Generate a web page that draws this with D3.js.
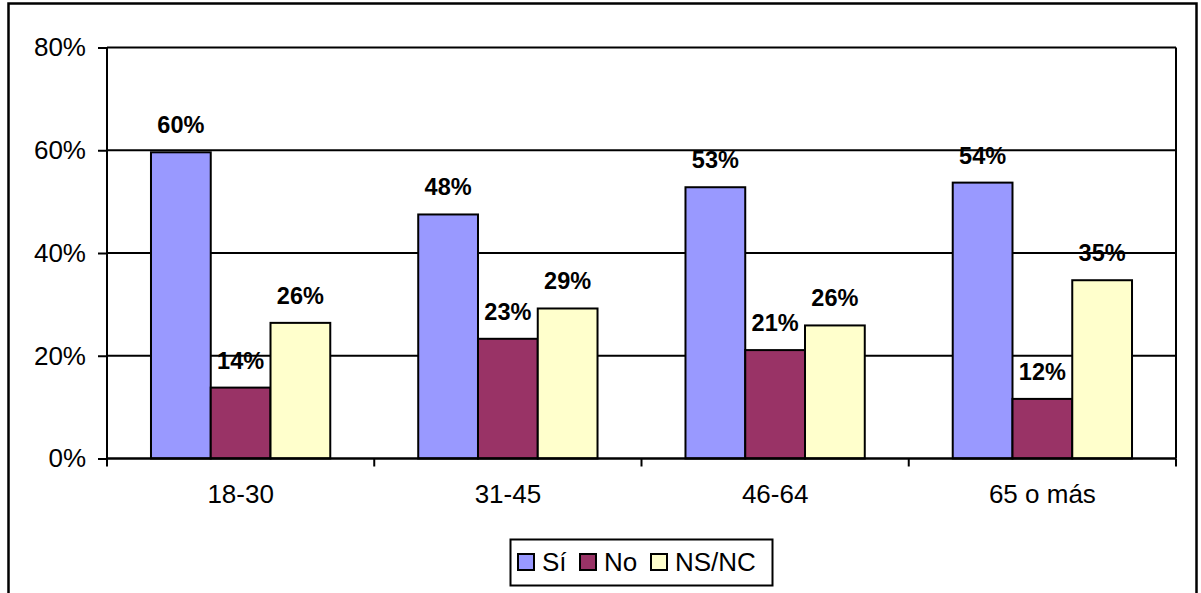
<!DOCTYPE html>
<html>
<head>
<meta charset="utf-8">
<script src="https://cdn.jsdelivr.net/npm/d3@7"></script>
<style>
html,body{margin:0;padding:0;background:#fff;}
svg{display:block;font-family:Arial,"Liberation Sans",sans-serif;}
</style>
</head>
<body>
<svg id="chart" width="1201" height="593"></svg>
<script>
const categories = ["18-30", "31-45", "46-64", "65 o más"];
const seriesNames = ["Sí", "No", "NS/NC"];
const siValues = [59.6, 47.5, 52.8, 53.7];
const noValues = [13.8, 23.3, 21.1, 11.6];
const nsncValues = [26.4, 29.2, 25.9, 34.7];
const yTicks = [0, 20, 40, 60, 80];
const colors = ["#9999FF", "#993366", "#FFFFCC"];

const seriesValues = [siValues, noValues, nsncValues];

const svg = d3.select("#chart");
const pLeft = 107, pRight = 1176, pTop = 47.5, pBottom = 458.5;

// outer frame
svg.append("rect")
  .attr("x", 8.5).attr("y", 3.5).attr("width", 1188).attr("height", 640)
  .attr("fill", "#fff").attr("stroke", "#000").attr("stroke-width", 2.5);

const x0 = d3.scaleBand().domain(categories).range([pLeft, pRight]).padding(0);
const x1 = d3.scaleBand().domain(seriesNames).range([0, x0.bandwidth()])
  .paddingInner(0).paddingOuter(0.736);
const y = d3.scaleLinear().domain([0, 80]).range([pBottom, pTop]);

// gridlines
svg.append("g").selectAll("line").data(yTicks.filter(d => d > 0)).join("line")
  .attr("x1", pLeft).attr("x2", pRight)
  .attr("y1", d => y(d)).attr("y2", d => y(d))
  .attr("stroke", "#000").attr("stroke-width", 2);

// right border of plot
svg.append("line").attr("x1", pRight).attr("x2", pRight).attr("y1", pTop).attr("y2", pBottom)
  .attr("stroke", "#000").attr("stroke-width", 2);

// bars
const groups = svg.append("g").selectAll("g").data(categories).join("g")
  .attr("transform", d => `translate(${x0(d)},0)`);

groups.selectAll("rect")
  .data((c, i) => seriesNames.map((s, j) => ({s, j, v: seriesValues[j][i]})))
  .join("rect")
  .attr("x", d => x1(d.s))
  .attr("y", d => y(d.v))
  .attr("width", x1.bandwidth())
  .attr("height", d => y(0) - y(d.v))
  .attr("fill", d => colors[d.j])
  .attr("stroke", "#000").attr("stroke-width", 2);

groups.selectAll("text")
  .data((c, i) => seriesNames.map((s, j) => ({s, j, v: seriesValues[j][i]})))
  .join("text")
  .attr("x", d => x1(d.s) + x1.bandwidth() / 2)
  .attr("y", d => y(d.v) - 19)
  .attr("text-anchor", "middle")
  .attr("font-weight", "bold")
  .attr("font-size", 23.5)
  .attr("fill", "#000")
  .text(d => Math.round(d.v) + "%");

// y axis
const yAxis = d3.axisLeft(y).tickValues(yTicks).tickSize(9).tickPadding(12)
  .tickFormat(d => d + "%");
const ya = svg.append("g").attr("transform", `translate(${pLeft},0)`).call(yAxis);
ya.select(".domain").attr("stroke", "#000").attr("stroke-width", 2)
  .attr("d", `M0,${pTop}V${pBottom + 7}`);
ya.selectAll(".tick line").attr("stroke", "#000").attr("stroke-width", 2);
ya.selectAll(".tick text").attr("font-size", 26).attr("fill", "#000")
  .attr("font-family", "Arial, 'Liberation Sans', sans-serif");

// x axis
const xAxis = d3.axisBottom(x0).tickSize(0).tickPadding(26);
const xa = svg.append("g").attr("transform", `translate(0,${pBottom})`).call(xAxis);
xa.select(".domain").attr("stroke", "#000").attr("stroke-width", 2.5).attr("d", `M${pLeft},0H${pRight}`);
xa.selectAll(".tick text").attr("font-size", 26).attr("fill", "#000")
  .attr("font-family", "Arial, 'Liberation Sans', sans-serif");
// boundary ticks
const bounds = categories.map(c => x0(c)).concat([pRight]);
svg.append("g").selectAll("line").data(bounds).join("line")
  .attr("x1", d => d).attr("x2", d => d)
  .attr("y1", pBottom).attr("y2", pBottom + 8)
  .attr("stroke", "#000").attr("stroke-width", 2);

// legend
const lg = svg.append("g");
lg.append("rect").attr("x", 510.5).attr("y", 539.5).attr("width", 262).attr("height", 46)
  .attr("fill", "#fff").attr("stroke", "#000").attr("stroke-width", 2);
const legendX = [518, 580, 651];
seriesNames.forEach((s, j) => {
  lg.append("rect").attr("x", legendX[j]).attr("y", 554).attr("width", 16).attr("height", 16)
    .attr("fill", colors[j]).attr("stroke", "#000").attr("stroke-width", 2);
  lg.append("text").attr("x", legendX[j] + 24).attr("y", 571)
    .attr("font-size", 26).attr("fill", "#000").text(s);
});
</script>
</body>
</html>
